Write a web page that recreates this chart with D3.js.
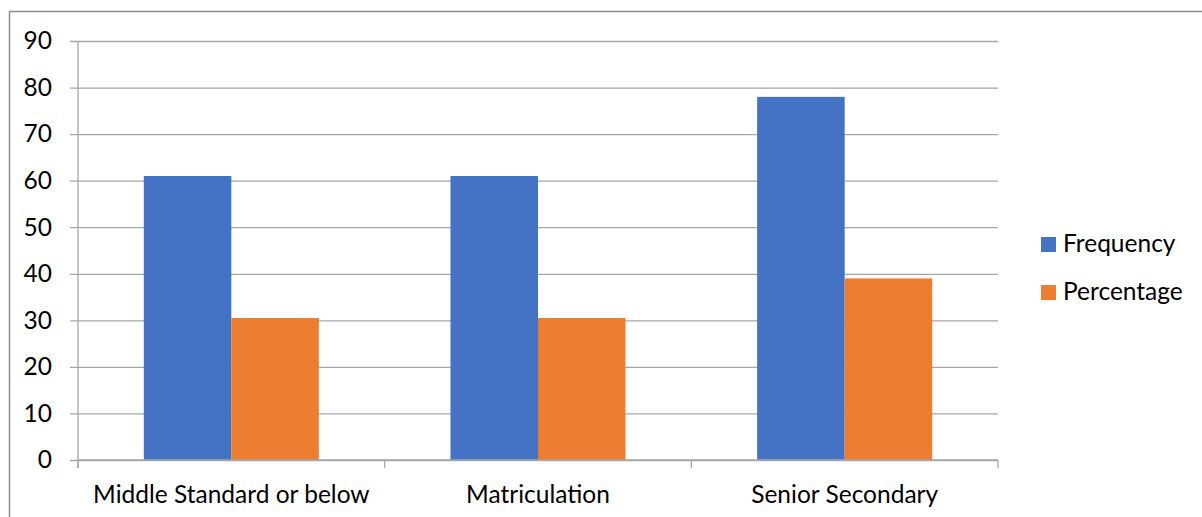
<!DOCTYPE html>
<html>
<head>
<meta charset="utf-8">
<script src="https://cdn.jsdelivr.net/npm/d3@7"></script>
<style>
  html, body { margin: 0; padding: 0; background: #fff; }
  svg { display: block; }
  text { font-family: Lato, "Open Sans", sans-serif; fill: #000; }
</style>
</head>
<body>
<svg id="chart" width="1202" height="517"></svg>
<script>
// Education level of respondents
const categories = ["Middle Standard or below", "Matriculation", "Senior Secondary"];
const seriesNames = ["Frequency", "Percentage"];
const frequency = [61, 61, 78];
const percentage = [30.5, 30.5, 39];
const yTicks = [0, 10, 20, 30, 40, 50, 60, 70, 80, 90];
const colors = ["#4472c4", "#ed7d31"];

const svg = d3.select("#chart");
const W = 1202, H = 517;
const plot = { left: 78, right: 998, top: 41, bottom: 460 };
const fontSize = 24.5;
const gridColor = "#a6a6a6";

// outer chart-area frame
svg.append("path")
  .attr("d", `M9.5,${H} V11.5 H${W}`)
  .attr("fill", "none")
  .attr("stroke", "#8c8c8c")
  .attr("stroke-width", 1.5);

const x0 = d3.scaleBand()
  .domain(categories)
  .range([plot.left, plot.right])
  .paddingInner(0)
  .paddingOuter(0);

const x1 = d3.scaleBand()
  .domain(seriesNames)
  .range([0, x0.bandwidth()])
  .paddingOuter(0.752)
  .paddingInner(0);

const y = d3.scaleLinear()
  .domain([0, 90])
  .range([plot.bottom, plot.top]);

// horizontal gridlines with short tick stubs left of the axis
const yAxis = d3.axisLeft(y)
  .tickValues(yTicks)
  .tickSize(0)
  .tickFormat(d3.format("d"));

const gy = svg.append("g")
  .attr("transform", `translate(${plot.left},0)`)
  .call(yAxis);
gy.select(".domain").remove();
gy.selectAll(".tick line")
  .attr("x1", -8)
  .attr("x2", plot.right - plot.left)
  .attr("stroke", gridColor)
  .attr("stroke-width", 1.3);
gy.selectAll(".tick text")
  .attr("x", -26)
  .attr("font-size", fontSize)
  .style("font-family", "Lato, 'Open Sans', sans-serif");

// vertical axis line
svg.append("line")
  .attr("x1", plot.left).attr("x2", plot.left)
  .attr("y1", plot.top).attr("y2", plot.bottom + 8)
  .attr("stroke", gridColor).attr("stroke-width", 1.3);

// bars
const rows = categories.map((c, i) => ({ cat: c, values: [frequency[i], percentage[i]] }));
const groups = svg.append("g").selectAll("g")
  .data(rows)
  .join("g")
  .attr("transform", d => `translate(${x0(d.cat)},0)`);

groups.selectAll("rect")
  .data(d => d.values.map((v, j) => ({ name: seriesNames[j], value: v, j })))
  .join("rect")
  .attr("x", d => x1(d.name))
  .attr("width", x1.bandwidth())
  .attr("y", d => y(d.value))
  .attr("height", d => y(0) - y(d.value))
  .attr("fill", d => colors[d.j]);

// category axis
const xAxis = d3.axisBottom(x0).tickSize(0).tickPadding(0);
const gx = svg.append("g")
  .attr("transform", `translate(0,${plot.bottom})`)
  .call(xAxis);
gx.select(".domain").remove();
gx.selectAll(".tick text")
  .attr("y", 43)
  .attr("dy", 0)
  .attr("font-size", fontSize)
  .style("font-family", "Lato, 'Open Sans', sans-serif");

// baseline and category separators
svg.append("line")
  .attr("x1", plot.left).attr("x2", plot.right)
  .attr("y1", plot.bottom).attr("y2", plot.bottom)
  .attr("stroke", gridColor).attr("stroke-width", 1.3);
const bounds = categories.map(c => x0(c)).concat([x0(categories[categories.length - 1]) + x0.bandwidth()]);
svg.append("g").selectAll("line")
  .data(bounds)
  .join("line")
  .attr("x1", d => d).attr("x2", d => d)
  .attr("y1", plot.bottom).attr("y2", plot.bottom + 8)
  .attr("stroke", gridColor).attr("stroke-width", 1.3);

// legend
const legend = svg.append("g").attr("transform", "translate(1041,237)");
const items = legend.selectAll("g")
  .data(seriesNames)
  .join("g")
  .attr("transform", (d, i) => `translate(0,${i * 48})`);
items.append("rect")
  .attr("width", 15).attr("height", 15)
  .attr("fill", (d, i) => colors[i]);
items.append("text")
  .attr("x", 22).attr("y", 15)
  .attr("font-size", fontSize)
  .text(d => d);
</script>
</body>
</html>
